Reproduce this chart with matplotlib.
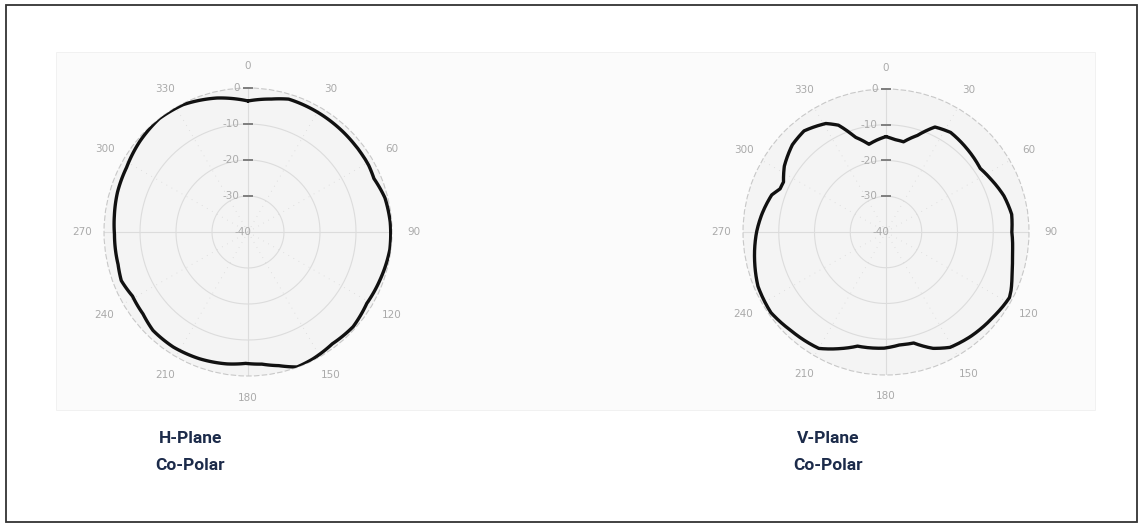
import numpy as np
import matplotlib
matplotlib.use("Agg")
import matplotlib.pyplot as plt
from matplotlib.patches import Rectangle, PathPatch
from matplotlib.path import Path

# ---- data (angle in degrees, gain in dB) ----
h_angles = [0, 10, 17, 28, 38, 50, 61, 67, 76, 86, 97, 110, 121, 132, 143, 153, 160,
            167, 174, 181, 189, 201, 213, 224, 232, 241, 249, 256, 269, 277, 287, 298,
            310, 322, 333, 347, 360]
h_gain = [-3.6, -2.5, -1.4, -1.5, -1.6, -1.7, -1.7, -2.0, -0.8, -0.4, -0.3, -1.0, -1.5,
          -0.7, -1.1, -0.4, -0.1, -1.9, -3.1, -3.5, -2.9, -2.3, -1.9, -2.0, -3.0, -3.3,
          -2.3, -2.8, -2.9, -2.6, -2.1, -1.8, -0.8, 0.0, -0.3, -1.8, -3.6]

v_angles = [0, 5, 11, 18, 25, 33, 44, 56, 63, 73, 82, 90, 100, 105, 110, 115, 118, 122,
            128, 141, 151, 158, 166, 173, 181, 194, 202, 210, 224, 235, 247, 257, 270,
            278, 288, 292, 296, 303, 313, 321, 331, 336, 342, 349, 354, 360]
v_gain = [-13.3, -14.0, -14.3, -11.6, -7.6, -6.8, -7.5, -8.2, -7.2, -5.5, -4.5, -4.8,
          -4.1, -3.4, -2.5, -1.4, -0.9, -1.2, -1.7, -2.4, -3.1, -4.9, -8.0, -8.2, -7.5,
          -7.1, -4.8, -2.4, -1.7, -0.7, -1.1, -2.3, -3.8, -4.9, -6.4, -8.0, -8.1, -6.1,
          -4.2, -3.6, -5.3, -7.3, -12.1, -15.0, -14.2, -13.3]

angle_ticks = [0, 30, 60, 90, 120, 150, 180, 210, 240, 270, 300, 330]
ring_ticks = [0, -10, -20, -30, -40]
titles = ["H-Plane\nCo-Polar", "V-Plane\nCo-Polar"]

W, H = 1144, 529
fig = plt.figure(figsize=(W / 100, H / 100), dpi=100)
fig.patch.set_facecolor("white")

# outer border and light panel
fig.add_artist(Rectangle((6 / W, 1 - 522 / H), (1137 - 6) / W, (522 - 5) / H,
                         transform=fig.transFigure, fill=False, ec="#333333", lw=1.3,
                         zorder=-5))
fig.add_artist(Rectangle((56 / W, 1 - 410 / H), (1095 - 56) / W, (410 - 52) / H,
                         transform=fig.transFigure, fc="#fbfbfb", ec="#f0f0f0", lw=0.6,
                         zorder=-10))


def make_polar(cx, cy, R, angles, gain, title):
    ax = fig.add_axes([(cx - R) / W, 1 - (cy + R) / H, 2 * R / W, 2 * R / H],
                      projection="polar")
    ax.set_theta_zero_location("N")
    ax.set_theta_direction(-1)
    ax.set_rlim(-40, 0)
    ax.set_facecolor("#f4f4f4")
    ax.set_xticks([])
    ax.set_yticks([])
    ax.grid(False)
    ax.spines["polar"].set_linestyle((0, (4, 3)))
    ax.spines["polar"].set_color("#c8c8c8")
    ax.spines["polar"].set_linewidth(0.8)
    t = np.linspace(0, 2 * np.pi, 361)
    for r in [-10, -20, -30]:
        ax.plot(t, np.full_like(t, r), color="#dcdcdc", lw=0.8, zorder=1)
    for a in [0, 90, 180, 270]:
        ax.plot(np.radians([a, a]), [-40, 0], color="#dcdcdc", lw=0.8, zorder=1)
    for a in [30, 60, 120, 150, 210, 240, 300, 330]:
        ax.plot(np.radians([a, a]), [-40, 0], color="#d8d8d8", lw=0.6,
                ls=(0, (1, 6)), zorder=1)
    # angle labels
    for a in angle_ticks:
        ax.text(np.radians(a), 6.0, str(a), ha="center", va="center",
                fontsize=7.5, color="#aaaaaa", family="DejaVu Sans", clip_on=False)
    # radial labels
    for r in ring_ticks:
        if r == -40:
            ax.annotate(str(r), (0, r), xytext=(-4, 0), textcoords="offset points",
                        ha="center", va="center", fontsize=7.5, color="#aaaaaa")
        else:
            ax.annotate(str(r), (0, r), xytext=(-6, 0), textcoords="offset points",
                        ha="right", va="center", fontsize=7.5, color="#aaaaaa")
            ax.plot([0], [r], marker="_", ms=7, mew=1.3, color="#777777",
                    clip_on=False, zorder=3)
    # pattern curve: drawn as a path using polar arc interpolation between readings
    verts = np.column_stack([np.radians(angles), gain])
    path = Path(verts, _interpolation_steps=24)
    ax.add_patch(PathPatch(path, fill=False, ec="#111111", lw=2.4,
                           joinstyle="round", capstyle="round", zorder=4,
                           transform=ax.transData))
    fig.text(cx / W - 0.0505, 1 - 452 / H, title, ha="center", va="center",
             fontsize=12.5, fontweight="bold", color="#1c2b4a", family="Roboto",
             linespacing=1.95)
    return ax


make_polar(248, 232, 144, h_angles, h_gain, titles[0])
make_polar(886, 232, 143, v_angles, v_gain, titles[1])

fig.savefig("out.png", dpi=100, facecolor="white")
